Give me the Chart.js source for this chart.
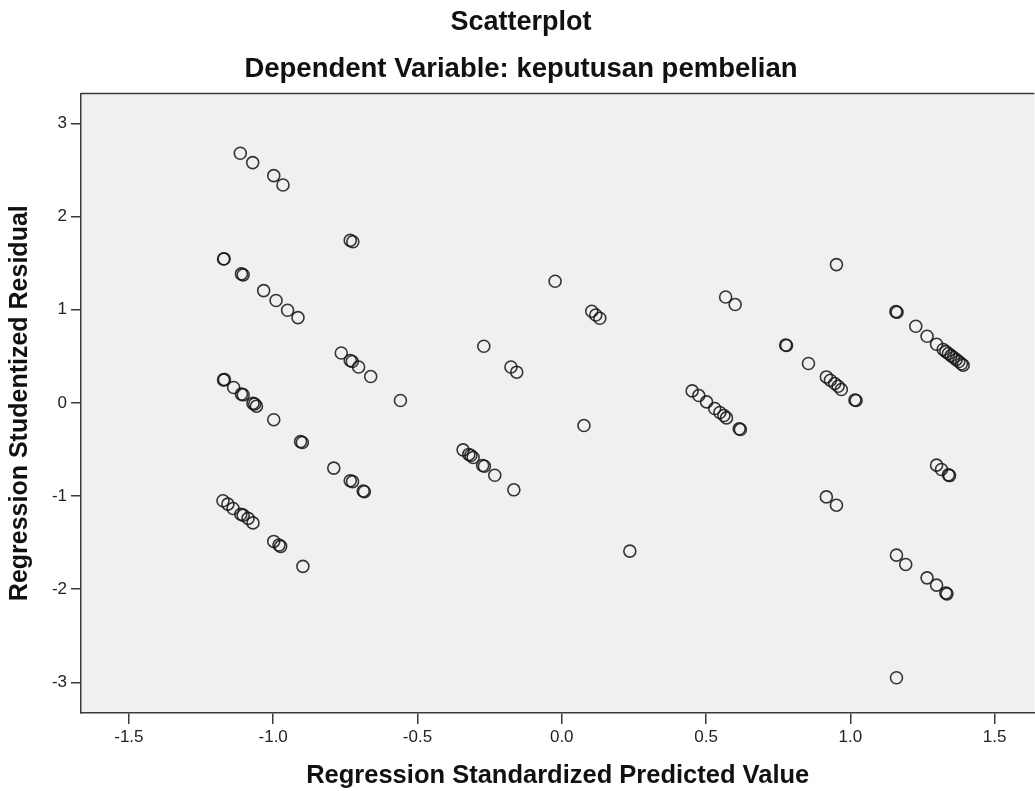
<!DOCTYPE html>
<html>
<head>
<meta charset="utf-8">
<script src="https://cdn.jsdelivr.net/npm/chart.js@4/dist/chart.umd.min.js"></script>
<style>
  html, body { margin: 0; padding: 0; background: #ffffff; overflow: hidden; }
  #wrap { width: 1035px; height: 791px; position: relative; overflow: hidden; }
</style>
</head>
<body>
<div id="wrap"><canvas id="c" width="1042" height="791"></canvas></div>
<script>
// ---- Data ----
const chartTitle = "Scatterplot";
const chartSubtitle = "Dependent Variable: keputusan pembelian";
const xAxisTitle = "Regression Standardized Predicted Value";
const yAxisTitle = "Regression Studentized Residual";

const xTickValues = [-1.5, -1.0, -0.5, 0.0, 0.5, 1.0, 1.5];
const yTickValues = [-3, -2, -1, 0, 1, 2, 3];

const predictedValues = [
  -1.114, -1.071, -0.998, -0.966, -0.733, -0.724,
  -1.172, -1.170, -1.110, -1.104, -1.033, -0.990, -0.950, -0.914,
  -0.764, -0.733, -0.726, -0.704, -0.662, -0.559,
  -1.172, -1.169, -1.137, -1.110, -1.104, -1.070, -1.064, -1.058, -0.998,
  -0.905, -0.899, -0.790, -0.733, -0.725, -0.688, -0.684,
  -1.174, -1.157, -1.139, -1.112, -1.104, -1.087, -1.070,
  -0.998, -0.980, -0.974, -0.897,
  -0.023, 0.104, 0.118, 0.132, -0.270, -0.176, -0.156, 0.077,
  -0.342, -0.322, -0.315, -0.307, -0.274, -0.268, -0.232, -0.166, 0.236,
  0.952, 0.568, 0.601, 0.776, 0.779, 0.855, 0.917, 0.931, 0.946, 0.958, 0.969, 1.016, 1.020,
  0.452, 0.475, 0.502, 0.530, 0.548, 0.562, 0.571, 0.615, 0.619,
  1.299, 1.316, 1.340, 1.344, 0.917, 0.952,
  1.158, 1.162, 1.227, 1.266, 1.299, 1.322, 1.331, 1.340, 1.349, 1.358, 1.367, 1.376, 1.385, 1.391,
  1.160, 1.192, 1.266, 1.299, 1.331, 1.335, 1.160
];

const studentizedResiduals = [
  2.68, 2.58, 2.44, 2.34, 1.745, 1.73,
  1.545, 1.548, 1.385, 1.375, 1.206, 1.100, 0.995, 0.916,
  0.536, 0.455, 0.445, 0.386, 0.283, 0.026,
  0.247, 0.250, 0.165, 0.095, 0.087, -0.005, -0.012, -0.035, -0.18,
  -0.415, -0.425, -0.70, -0.835, -0.845, -0.945, -0.953,
  -1.05, -1.087, -1.133, -1.195, -1.205, -1.24, -1.288,
  -1.487, -1.525, -1.540, -1.755,
  1.306, 0.984, 0.944, 0.909, 0.608, 0.386, 0.330, -0.243,
  -0.504, -0.553, -0.565, -0.586, -0.672, -0.680, -0.776, -0.933, -1.591,
  1.485, 1.137, 1.056, 0.622, 0.616, 0.423, 0.279, 0.244, 0.208, 0.179, 0.144, 0.032, 0.026,
  0.129, 0.079, 0.011, -0.060, -0.103, -0.135, -0.161, -0.278, -0.286,
  -0.668, -0.715, -0.772, -0.780, -1.009, -1.098,
  0.980, 0.974, 0.823, 0.716, 0.630, 0.573, 0.551, 0.530, 0.508, 0.487, 0.465, 0.444, 0.420, 0.405,
  -1.634, -1.734, -1.878, -1.956, -2.040, -2.050, -2.95
];

const points = predictedValues.map((x, i) => ({ x: x, y: studentizedResiduals[i] }));

const FONT = "'Liberation Sans', Arial, Helvetica, sans-serif";
const FRAME = '#3a3a3a';

const plotFramePlugin = {
  id: 'plotFrame',
  beforeDraw(chart) {
    const { ctx, chartArea: a } = chart;
    ctx.save();
    ctx.fillStyle = '#ffffff';
    ctx.fillRect(0, 0, chart.width, chart.height);
    ctx.fillStyle = '#f0f0f0';
    ctx.fillRect(a.left, a.top, a.right - a.left, a.bottom - a.top);
    ctx.restore();
  },
  afterDraw(chart) {
    const { ctx, chartArea: a } = chart;
    ctx.save();
    ctx.strokeStyle = FRAME;
    ctx.lineWidth = 1.5;
    ctx.beginPath();
    ctx.moveTo(a.left, a.top);
    ctx.lineTo(a.right, a.top);
    ctx.stroke();
    ctx.restore();
  }
};

new Chart(document.getElementById('c'), {
  type: 'scatter',
  data: {
    datasets: [{
      data: points,
      pointStyle: 'circle',
      pointRadius: 6,
      pointHoverRadius: 6,
      pointBorderWidth: 1.6,
      borderColor: 'rgba(20,20,20,0.85)',
      backgroundColor: 'rgba(0,0,0,0)',
      pointBackgroundColor: 'rgba(0,0,0,0)'
    }]
  },
  options: {
    responsive: false,
    animation: false,
    layout: { padding: 0 },
    plugins: {
      legend: { display: false },
      tooltip: { enabled: false },
      title: {
        display: true,
        text: chartTitle,
        color: '#111',
        font: { family: FONT, size: 27, weight: 'bold' },
        padding: { top: 6, bottom: 0 }
      },
      subtitle: {
        display: true,
        text: chartSubtitle,
        color: '#111',
        font: { family: FONT, size: 27.5, weight: 'bold' },
        padding: { top: 15, bottom: 7 }
      }
    },
    scales: {
      x: {
        type: 'linear',
        min: -1.666,
        max: 1.638,
        afterBuildTicks: (s) => { s.ticks = xTickValues.map(v => ({ value: v })); },
        afterFit: (s) => { s.height = 78; s.paddingLeft = 0; s.paddingRight = 0; },
        ticks: {
          color: '#222',
          font: { family: FONT, size: 17 },
          padding: 3,
          maxRotation: 0,
          autoSkip: false,
          callback: (v) => Number(v).toFixed(1)
        },
        grid: {
          drawOnChartArea: false,
          drawTicks: true,
          tickLength: 11,
          color: FRAME,
          lineWidth: 1.5
        },
        border: { display: true, color: FRAME, width: 1.5 },
        title: {
          display: true,
          text: xAxisTitle,
          color: '#111',
          font: { family: FONT, size: 25.5, weight: 'bold' },
          padding: { top: 0, bottom: 0 }
        }
      },
      y: {
        type: 'linear',
        min: -3.329,
        max: 3.323,
        afterBuildTicks: (s) => { s.ticks = yTickValues.map(v => ({ value: v })); },
        afterFit: (s) => { s.width = 81; s.paddingTop = 0; s.paddingBottom = 0; },
        ticks: {
          color: '#222',
          font: { family: FONT, size: 17 },
          padding: 4,
          autoSkip: false,
          callback: (v) => String(v)
        },
        grid: {
          drawOnChartArea: false,
          drawTicks: true,
          tickLength: 10,
          color: FRAME,
          lineWidth: 1.5
        },
        border: { display: true, color: FRAME, width: 1.5 },
        title: {
          display: true,
          text: yAxisTitle,
          color: '#111',
          font: { family: FONT, size: 25, weight: 'bold' },
          padding: { top: 5, bottom: 0 }
        }
      }
    }
  },
  plugins: [plotFramePlugin]
});
</script>
</body>
</html>
